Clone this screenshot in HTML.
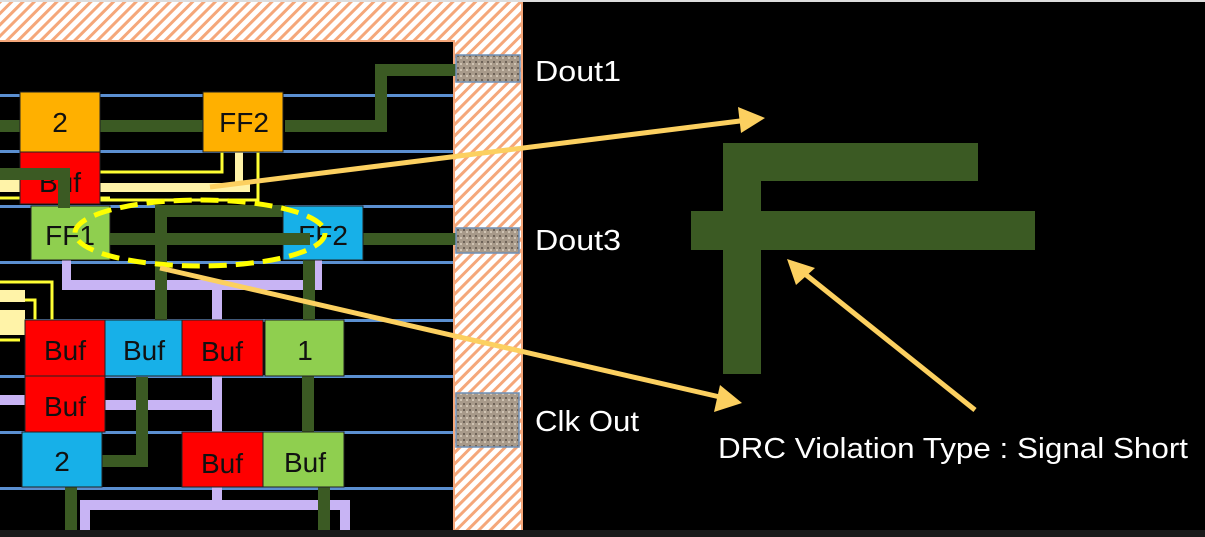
<!DOCTYPE html>
<html><head><meta charset="utf-8"><style>
html,body{margin:0;padding:0;background:#000;width:1205px;height:537px;overflow:hidden}
svg{display:block}
text{font-family:"Liberation Sans",sans-serif}
</style></head><body>
<svg width="1205" height="537" viewBox="0 0 1205 537" xmlns="http://www.w3.org/2000/svg">
<defs>
<pattern id="h" width="8" height="8" patternUnits="userSpaceOnUse" patternTransform="rotate(45)">
<rect width="8" height="8" fill="#fff"/><rect width="3" height="8" fill="#f5a77a"/>
</pattern>
<pattern id="g" width="6" height="6" patternUnits="userSpaceOnUse">
<rect width="6" height="6" fill="#a89a8a"/><rect x="1" y="1" width="2" height="2" fill="#6e6358"/><rect x="4" y="3" width="2" height="2" fill="#cfc3b3"/>
</pattern>
</defs>
<rect width="1205" height="537" fill="#000"/>
<rect x="0" y="0" width="1205" height="2" fill="#ddd"/>
<rect x="0" y="2" width="523" height="40" fill="url(#h)"/>
<rect x="453" y="2" width="70" height="528" fill="url(#h)"/>
<rect x="0" y="40" width="455" height="2" fill="#f5a77a"/>
<rect x="453" y="40" width="2" height="490" fill="#f5a77a"/>
<rect x="521" y="2" width="2" height="528" fill="#f5a77a"/>
<g fill="#5b8fd0">
<rect x="0" y="94" width="453" height="3"/><rect x="0" y="150" width="453" height="3"/>
<rect x="0" y="205" width="453" height="3"/><rect x="0" y="261" width="453" height="3"/>
<rect x="0" y="319" width="453" height="3"/><rect x="0" y="375" width="453" height="3"/>
<rect x="0" y="431" width="453" height="3"/><rect x="0" y="487" width="453" height="3"/>
</g>
<g fill="#c8b4f4">
<rect x="62" y="258" width="9" height="30"/><rect x="62" y="280" width="260" height="10"/>
<rect x="313" y="258" width="9" height="30"/><rect x="212" y="285" width="10" height="45"/>
<rect x="212" y="375" width="10" height="60"/><rect x="100" y="400" width="120" height="10"/>
<rect x="0" y="395" width="25" height="10"/>
<rect x="212" y="485" width="10" height="18"/><rect x="80" y="500" width="270" height="10"/>
<rect x="80" y="500" width="10" height="35"/><rect x="340" y="500" width="10" height="35"/>
</g>
<g fill="none" stroke="#ffff33" stroke-width="3">
<path d="M0 198 H110 M100 172 H222 V152 M100 200 H258 V152"/>
<path d="M0 282 H52 V325 M0 300 H35 V330 M0 340 H20"/>
</g>
<g fill="#fff3a8">
<rect x="0" y="180" width="30" height="12"/><rect x="100" y="183" width="150" height="9"/>
<rect x="235" y="152" width="8" height="35"/>
<rect x="0" y="290" width="25" height="12"/><rect x="0" y="310" width="25" height="25"/>
</g>
<g fill="#3b5a23">
<rect x="375" y="64" width="82" height="12"/><rect x="375" y="64" width="12" height="68"/>
<rect x="285" y="120" width="102" height="12"/><rect x="100" y="120" width="103" height="12"/>
<rect x="0" y="120" width="22" height="12"/>
<rect x="155" y="205" width="12" height="115"/>
<rect x="155" y="205" width="130" height="12"/><rect x="303" y="233" width="12" height="87"/>
<rect x="360" y="233" width="97" height="12"/>
<rect x="136" y="377" width="12" height="90"/><rect x="100" y="455" width="48" height="12"/>
<rect x="302" y="375" width="12" height="60"/>
<rect x="65" y="487" width="12" height="50"/><rect x="318" y="487" width="12" height="50"/>
</g>
<g stroke="#222" stroke-width="1">
<rect x="20" y="92" width="80" height="60" fill="#ffb000"/>
<rect x="203" y="92" width="80" height="60" fill="#ffb000"/>
<rect x="20" y="152" width="80" height="52" fill="#ff0000"/>
<rect x="31" y="206" width="79" height="54" fill="#8fcf4f"/>
<rect x="283" y="206" width="80" height="54" fill="#17b0e8"/>
<rect x="25" y="320" width="80" height="56" fill="#ff0000"/>
<rect x="105" y="320" width="77" height="56" fill="#17b0e8"/>
<rect x="182" y="320" width="81" height="56" fill="#ff0000"/>
<rect x="265" y="320" width="79" height="56" fill="#8fcf4f"/>
<rect x="25" y="376" width="80" height="56" fill="#ff0000"/>
<rect x="22" y="432" width="80" height="55" fill="#17b0e8"/>
<rect x="182" y="432" width="81" height="55" fill="#ff0000"/>
<rect x="263" y="432" width="81" height="55" fill="#8fcf4f"/>
</g>
<g fill="#111" font-size="28" text-anchor="middle">
<text x="60" y="132">2</text><text x="244" y="132">FF2</text>
<text x="60" y="192">Buf</text><text x="70" y="245">FF1</text><text x="323" y="245">FF2</text>
<text x="65" y="360">Buf</text><text x="144" y="360">Buf</text><text x="222" y="361">Buf</text><text x="305" y="360">1</text>
<text x="65" y="416">Buf</text><text x="62" y="471">2</text><text x="222" y="473">Buf</text><text x="305" y="472">Buf</text>
</g>
<rect x="0" y="168" width="65" height="12" fill="#3b5a23"/><rect x="58" y="168" width="12" height="40" fill="#3b5a23"/>
<rect x="110" y="233" width="200" height="12" fill="#3b5a23"/>
<g fill="url(#g)" stroke="#6f8fb5" stroke-width="1.5">
<rect x="456" y="55" width="64" height="27"/><rect x="456" y="228" width="63" height="25"/><rect x="456" y="393" width="63" height="54"/>
</g>
<ellipse cx="200" cy="233" rx="125" ry="33" fill="none" stroke="#ffff00" stroke-width="5" stroke-dasharray="18,9"/>
<g fill="#3b5a23">
<rect x="723" y="143" width="38" height="231"/><rect x="723" y="143" width="255" height="38"/><rect x="691" y="211" width="344" height="39"/>
</g>
<g stroke="#fcd060" stroke-width="5" fill="none">
<line x1="210" y1="187" x2="740" y2="121"/>
<line x1="160" y1="268" x2="720" y2="397"/>
<line x1="975" y1="410" x2="805" y2="274"/>
</g>
<g fill="#fcd060">
<polygon points="765,118 738,107 741,133"/>
<polygon points="742,403 720,385 714,412"/>
<polygon points="787,259 796,285 815,268"/>
</g>
<g fill="#fff" font-size="29">
<text x="535" y="81" textLength="86" lengthAdjust="spacingAndGlyphs">Dout1</text>
<text x="535" y="250" textLength="86" lengthAdjust="spacingAndGlyphs">Dout3</text>
<text x="535" y="431" textLength="104" lengthAdjust="spacingAndGlyphs">Clk Out</text>
<text x="718" y="458" textLength="470" lengthAdjust="spacingAndGlyphs">DRC Violation Type : Signal Short</text>
</g>
<rect x="0" y="530" width="1205" height="7" fill="#1a1a1a"/>
</svg>
</body></html>
